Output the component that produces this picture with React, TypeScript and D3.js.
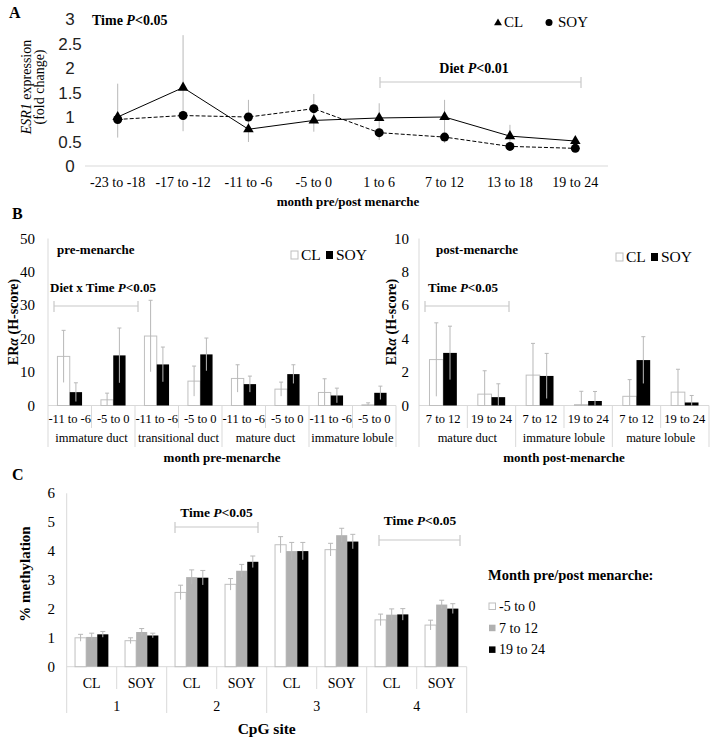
import React from "react";
import * as d3 from "d3";

// ---------- Panel A data ----------
const periodsA = ["-23 to -18", "-17 to -12", "-11 to -6", "-5 to 0", "1 to 6", "7 to 12", "13 to 18", "19 to 24"];
const esr1CL = [1.0, 1.6, 0.75, 0.93, 0.98, 1.0, 0.61, 0.51];
const esr1SOY = [0.95, 1.03, 1.0, 1.17, 0.68, 0.59, 0.4, 0.36];
const esr1ErrHigh = [1.68, 2.67, 1.35, 1.47, 1.28, 1.35, 0.84, 0.6];
const esr1ErrLow = [0.58, 0.71, 0.49, 0.7, 0.53, 0.47, 0.33, 0.29];
const ticksA = [0, 0.5, 1, 1.5, 2, 2.5, 3];

// ---------- Panel B data ----------
const tissuesPre = ["immature duct", "transitional duct", "mature duct", "immature lobule"];
const timesPre = ["-11 to -6", "-5 to 0"];
const erPreCL = [14.7, 1.7, 20.8, 7.3, 8.1, 4.9, 3.9, 0.2];
const erPreSOY = [4.0, 15.0, 12.3, 15.3, 6.4, 9.4, 3.0, 3.8];
const erPreCLErr = [7.8, 2.0, 10.7, 4.5, 4.1, 2.1, 4.1, 0.6];
const erPreSOYErr = [2.8, 8.2, 5.2, 4.9, 2.4, 2.8, 2.2, 2.0];
const ticksBPre = [0, 10, 20, 30, 40, 50];

const tissuesPost = ["mature duct", "immature lobule", "mature lobule"];
const timesPost = ["7 to 12", "19 to 24"];
const erPostCL = [2.75, 0.68, 1.82, 0.05, 0.55, 0.8];
const erPostSOY = [3.15, 0.5, 1.77, 0.27, 2.72, 0.18];
const erPostCLErr = [2.2, 1.4, 1.9, 0.8, 1.0, 1.37];
const erPostSOYErr = [1.6, 0.8, 1.35, 0.57, 1.4, 0.42];
const ticksBPost = [0, 2, 4, 6, 8, 10];

// ---------- Panel C data ----------
const sites = ["1", "2", "3", "4"];
const diets = ["CL", "SOY"];
const monthGroups = ["-5 to 0", "7 to 12", "19 to 24"];
const methM5to0 = [1.0, 0.9, 2.57, 2.85, 4.22, 4.05, 1.62, 1.44];
const meth7to12 = [1.03, 1.2, 3.1, 3.32, 4.0, 4.55, 1.8, 2.15];
const meth19to24 = [1.12, 1.08, 3.08, 3.63, 4.0, 4.33, 1.81, 2.01];
const methErrM5 = [0.12, 0.1, 0.25, 0.2, 0.28, 0.22, 0.2, 0.17];
const methErr7 = [0.13, 0.12, 0.25, 0.22, 0.3, 0.24, 0.2, 0.15];
const methErr19 = [0.1, 0.08, 0.25, 0.2, 0.3, 0.25, 0.2, 0.17];
const ticksC = [0, 1, 2, 3, 4, 5, 6];

const SERIF = "'Liberation Serif', 'Times New Roman', serif";
const SANS = "'Liberation Sans', Arial, sans-serif";
const GRID = "#d9d9d9";
const ERR = "#b8b8b8";
const BAR_OUT = "#bfbfbf";
const GRAY_BAR = "#b0b0b0";

function PVal({ x, y, label, p, size = 13.5, anchor = "start" }: any) {
  return (
    <text x={x} y={y} fontFamily={SERIF} fontWeight="bold" fontSize={size} textAnchor={anchor}>
      {label} <tspan fontStyle="italic">P</tspan>{p}
    </text>
  );
}

function Bracket({ x1, x2, y }: any) {
  return (
    <g stroke="#c8c8c8" strokeWidth={1.2}>
      <line x1={x1} x2={x2} y1={y} y2={y} />
      <line x1={x1} x2={x1} y1={y - 5} y2={y + 6} />
      <line x1={x2} x2={x2} y1={y - 5} y2={y + 6} />
    </g>
  );
}

function PanelA() {
  const x = d3.scaleBand().domain(periodsA).range([85, 608]);
  const y = d3.scaleLinear().domain([0, 3]).range([166, 19]);
  const cx = (i: number) => (x(periodsA[i]) as number) + x.bandwidth() / 2;
  const line = d3.line<number>().x((_, i) => cx(i)).y((d) => y(d));
  const tri = d3.symbol().type(d3.symbolTriangle).size(48)();
  return (
    <g>
      <text x={9} y={18} fontFamily={SERIF} fontWeight="bold" fontSize={16}>A</text>
      {ticksA.map((t) => (
        <text key={t} x={70} y={y(t) + 6} fontFamily={SANS} fontSize={17} textAnchor="middle" fill="#222">{t}</text>
      ))}
      <line x1={85} x2={608} y1={y(0)} y2={y(0)} stroke={GRID} />
      <text transform="translate(31,87) rotate(-90)" fontFamily={SERIF} fontSize={14} textAnchor="middle">
        <tspan fontStyle="italic">ESR1</tspan> expression
      </text>
      <text transform="translate(44,87) rotate(-90)" fontFamily={SERIF} fontSize={14} textAnchor="middle">(fold change)</text>
      {periodsA.map((p, i) => (
        <g key={p}>
          <line x1={cx(i)} x2={cx(i)} y1={y(esr1ErrLow[i])} y2={y(esr1ErrHigh[i])} stroke={ERR} strokeWidth={1} />
          <text x={cx(i)} y={187} fontFamily={SERIF} fontSize={14} textAnchor="middle">{p}</text>
        </g>
      ))}
      <path d={line(esr1CL) as string} fill="none" stroke="#000" strokeWidth={1} />
      <path d={line(esr1SOY) as string} fill="none" stroke="#000" strokeWidth={1} strokeDasharray="4,2" />
      {esr1CL.map((v, i) => (
        <path key={"t" + i} d={tri as string} transform={`translate(${cx(i)},${y(v)})`} fill="#000" />
      ))}
      {esr1SOY.map((v, i) => (
        <circle key={"c" + i} cx={cx(i)} cy={y(v)} r={4.5} fill="#000" />
      ))}
      <text x={348} y={206} fontFamily={SERIF} fontWeight="bold" fontSize={13} textAnchor="middle">month pre/post menarche</text>
      <PVal x={92} y={25} label="Time" p="<0.05" size={14} />
      <PVal x={474} y={73} label="Diet" p="<0.01" size={14} anchor="middle" />
      <Bracket x1={380} x2={581} y={82} />
      <path d={tri as string} transform="translate(498,23) scale(0.75)" fill="#000" />
      <text x={504} y={27} fontFamily={SERIF} fontSize={15}>CL</text>
      <circle cx={549} cy={22.5} r={3.5} fill="#000" />
      <text x={558} y={27} fontFamily={SERIF} fontSize={15}>SOY</text>
    </g>
  );
}

function BarPanelB({ tissues, times, cl, soy, clErr, soyErr, ticks, maxY, x0, x1, tickX, titleX, xTitle, xTitleX }: any) {
  const cats = tissues.flatMap((t: string) => times.map((tm: string) => t + "|" + tm));
  const x = d3.scaleBand().domain(cats).range([x0, x1]);
  const y = d3.scaleLinear().domain([0, maxY]).range([405.5, 238.5]);
  const bw = x.bandwidth();
  const barW = bw * 0.283;
  const groupW = bw * times.length;
  return (
    <g>
      {ticks.map((t: number) => (
        <text key={t} x={tickX} y={y(t) + 5} fontFamily={SERIF} fontSize={15} textAnchor="end">{t}</text>
      ))}
      <line x1={x0} x2={x0} y1={238.5} y2={447} stroke={GRID} />
      <line x1={x0} x2={x1} y1={y(0)} y2={y(0)} stroke={GRID} />
      {cats.map((c: string, i: number) => {
        const left = x(c) as number;
        const mid = left + bw / 2;
        const isGroupEnd = (i + 1) % times.length === 0;
        const clX = mid - barW;
        const soyX = mid;
        return (
          <g key={c}>
            <line x1={left + bw} x2={left + bw} y1={y(0)} y2={isGroupEnd ? 447 : 428} stroke={GRID} />
            <rect x={clX} y={y(cl[i])} width={barW} height={y(0) - y(cl[i])} fill="#fff" stroke={BAR_OUT} strokeWidth={1} />
            <rect x={soyX} y={y(soy[i])} width={barW} height={y(0) - y(soy[i])} fill="#000" />
            <line x1={clX + barW / 2} x2={clX + barW / 2} y1={y(Math.max(0, cl[i] - clErr[i]))} y2={y(cl[i] + clErr[i])} stroke={ERR} />
            <line x1={clX + barW / 2 - 2} x2={clX + barW / 2 + 2} y1={y(cl[i] + clErr[i])} y2={y(cl[i] + clErr[i])} stroke={ERR} />
            <line x1={soyX + barW / 2} x2={soyX + barW / 2} y1={y(Math.max(0, soy[i] - soyErr[i]))} y2={y(soy[i] + soyErr[i])} stroke={ERR} />
            <line x1={soyX + barW / 2 - 2} x2={soyX + barW / 2 + 2} y1={y(soy[i] + soyErr[i])} y2={y(soy[i] + soyErr[i])} stroke={ERR} />
            <text x={mid} y={422.5} fontFamily={SERIF} fontSize={12.5} textAnchor="middle">{times[i % times.length]}</text>
          </g>
        );
      })}
      {tissues.map((t: string, k: number) => (
        <text key={t} x={x0 + groupW * k + groupW / 2} y={442} fontFamily={SERIF} fontSize={12.5} textAnchor="middle">{t}</text>
      ))}
      <text transform={`translate(${titleX},322) rotate(-90)`} fontFamily={SERIF} fontWeight="bold" fontSize={14} textAnchor="middle">
        ER<tspan fontStyle="italic">α</tspan> (H-score)
      </text>
      <text x={xTitleX} y={462} fontFamily={SERIF} fontWeight="bold" fontSize={13} textAnchor="middle">{xTitle}</text>
    </g>
  );
}

function Legend2({ x, y }: any) {
  return (
    <g fontFamily={SERIF} fontSize={15.5}>
      <rect x={x} y={y - 9} width={7} height={8} fill="#fff" stroke={BAR_OUT} />
      <text x={x + 10} y={y}>CL</text>
      <rect x={x + 35} y={y - 9} width={7} height={8} fill="#000" />
      <text x={x + 45} y={y}>SOY</text>
    </g>
  );
}

function PanelB() {
  return (
    <g>
      <text x={12} y={219} fontFamily={SERIF} fontWeight="bold" fontSize={16}>B</text>
      <BarPanelB tissues={tissuesPre} times={timesPre} cl={erPreCL} soy={erPreSOY} clErr={erPreCLErr} soyErr={erPreSOYErr}
        ticks={ticksBPre} maxY={50} x0={48} x1={396} tickX={35} titleX={18} xTitle="month pre-menarche" xTitleX={222} />
      <BarPanelB tissues={tissuesPost} times={timesPost} cl={erPostCL} soy={erPostSOY} clErr={erPostCLErr} soyErr={erPostSOYErr}
        ticks={ticksBPost} maxY={10} x0={419} x1={709} tickX={409} titleX={396} xTitle="month post-menarche" xTitleX={564} />
      <text x={57} y={254} fontFamily={SERIF} fontWeight="bold" fontSize={13}>pre-menarche</text>
      <text x={436} y={254} fontFamily={SERIF} fontWeight="bold" fontSize={13}>post-menarche</text>
      <Legend2 x={291} y={260} />
      <Legend2 x={616} y={262} />
      <PVal x={50} y={292} label="Diet x Time" p="<0.05" size={13} />
      <Bracket x1={54} x2={138} y={306} />
      <PVal x={428} y={292} label="Time" p="<0.05" size={13} />
      <Bracket x1={425} x2={509} y={306} />
    </g>
  );
}

function PanelC() {
  const cats = sites.flatMap((s) => diets.map((d) => s + "|" + d));
  const x = d3.scaleBand().domain(cats).range([66.7, 466.7]);
  const y = d3.scaleLinear().domain([0, 6]).range([666.7, 493.3]);
  const bw = x.bandwidth();
  const barW = bw * (2 / 9);
  const series = [
    { vals: methM5to0, err: methErrM5, fill: "#fff", stroke: BAR_OUT },
    { vals: meth7to12, err: methErr7, fill: GRAY_BAR, stroke: "none" },
    { vals: meth19to24, err: methErr19, fill: "#000", stroke: "none" },
  ];
  const siteW = bw * diets.length;
  return (
    <g>
      <text x={12} y={480} fontFamily={SERIF} fontWeight="bold" fontSize={16}>C</text>
      {ticksC.map((t) => (
        <text key={t} x={55} y={y(t) + 5} fontFamily={SERIF} fontSize={15} textAnchor="end">{t}</text>
      ))}
      <line x1={66.7} x2={66.7} y1={493.3} y2={713} stroke={GRID} />
      <line x1={66.7} x2={466.7} y1={y(0)} y2={y(0)} stroke={GRID} />
      {cats.map((c, i) => {
        const left = x(c) as number;
        const mid = left + bw / 2;
        const isSiteEnd = i % 2 === 1;
        return (
          <g key={c}>
            <line x1={left + bw} x2={left + bw} y1={y(0)} y2={isSiteEnd ? 713 : 689} stroke={GRID} />
            {series.map((s, k) => {
              const bx = mid - 1.5 * barW + k * barW;
              return (
                <g key={k}>
                  <rect x={bx} y={y(s.vals[i])} width={barW} height={y(0) - y(s.vals[i])} fill={s.fill} stroke={s.stroke} />
                </g>
              );
            })}
            {series.map((s, k) => {
              const ex = mid - 1.5 * barW + k * barW + barW / 2;
              const top = y(s.vals[i] + s.err[i]);
              const bot = y(s.vals[i] - s.err[i]);
              return (
                <g key={"e" + k} stroke={ERR}>
                  <line x1={ex} x2={ex} y1={bot} y2={top} />
                  <line x1={ex - 2.5} x2={ex + 2.5} y1={top} y2={top} />
                </g>
              );
            })}
            <text x={mid} y={688} fontFamily={SERIF} fontSize={14} textAnchor="middle">{diets[i % 2]}</text>
          </g>
        );
      })}
      {sites.map((s, k) => (
        <text key={s} x={66.7 + siteW * k + siteW / 2} y={711} fontFamily={SERIF} fontSize={14} textAnchor="middle">{s}</text>
      ))}
      <text x={266.7} y={734} fontFamily={SERIF} fontWeight="bold" fontSize={15.5} textAnchor="middle">CpG site</text>
      <text transform="translate(30,574) rotate(-90)" fontFamily={SERIF} fontWeight="bold" fontSize={15} textAnchor="middle">% methylation</text>
      <PVal x={216.5} y={517} label="Time" p="<0.05" size={13.5} anchor="middle" />
      <Bracket x1={175} x2={258} y={527} />
      <PVal x={420} y={525} label="Time" p="<0.05" size={13.5} anchor="middle" />
      <Bracket x1={379} x2={460} y={540} />
      <text x={488} y={580} fontFamily={SERIF} fontWeight="bold" fontSize={14.5}>Month pre/post menarche:</text>
      {monthGroups.map((m, k) => (
        <g key={m}>
          <rect x={489} y={603 + k * 21.7} width={6.5} height={6.5} fill={series[k].fill} stroke={series[k].stroke === "none" ? "none" : BAR_OUT} />
          <text x={499} y={611 + k * 21.7} fontFamily={SERIF} fontSize={14}>{m}</text>
        </g>
      ))}
    </g>
  );
}

export default function App() {
  return (
    <svg width={714} height={745} style={{ position: "absolute", left: 0, top: 0, background: "#fff" }}>
      <rect width={714} height={745} fill="#fff" />
      <PanelA />
      <PanelB />
      <PanelC />
    </svg>
  );
}
